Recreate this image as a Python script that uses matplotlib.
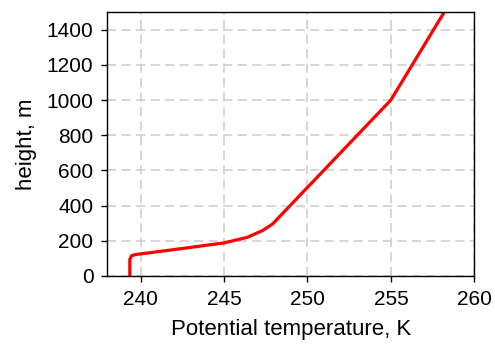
import matplotlib
matplotlib.use('Agg')
import matplotlib.pyplot as plt

# potential temperature profile (K) vs height (m)
theta = [239.35, 239.35, 239.45, 239.7, 242.0, 245.0, 246.4, 247.3, 247.9, 255.0, 258.2]
height = [0, 95, 115, 122, 150, 188, 220, 258, 295, 1000, 1500]

plt.rcParams['font.family'] = ['Liberation Sans', 'DejaVu Sans']

fig = plt.figure(figsize=(4.95, 3.48), dpi=100)
ax = fig.add_axes([0.2168, 0.2069, 0.7414, 0.7586])

ax.plot(theta, height, color='#ff0000', linewidth=2.3, solid_joinstyle='round')

ax.set_xlim(238, 260)
ax.set_ylim(0, 1500)
ax.set_xticks([240, 245, 250, 255, 260])
ax.set_yticks(range(0, 1401, 200))
ax.grid(True, color='#cccccc', linestyle=(0, (6, 3.5)), linewidth=1.1)
ax.tick_params(direction='out', length=4, labelsize=15, width=1, pad=6)
ax.set_xlabel('Potential temperature, K', fontsize=16, labelpad=7)
ax.set_ylabel('height, m', fontsize=16, labelpad=7)
for s in ax.spines.values():
    s.set_linewidth(1)

fig.savefig('out.png', dpi=100)
